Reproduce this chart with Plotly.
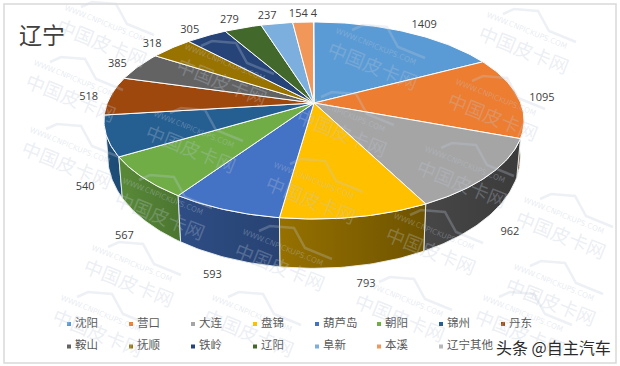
import math
import plotly.graph_objects as go

# ---- data ----
categories = ["沈阳", "营口", "大连", "盘锦", "葫芦岛", "朝阳", "锦州", "丹东",
              "鞍山", "抚顺", "铁岭", "辽阳", "阜新", "本溪", "辽宁其他"]
values = [1409, 1095, 962, 793, 593, 567, 540, 518, 385, 318, 305, 279, 237, 154, 4]
colors = ["#5B9BD5", "#ED7D31", "#A5A5A5", "#FFC000", "#4472C4", "#70AD47", "#255E91", "#9E480E",
          "#636363", "#997300", "#264478", "#43682B", "#7CAFDD", "#F1975A", "#B7B7B7"]
title_text = "辽宁"
credit_text = "头条 @自主汽车"

# ---- perspective model of the pie ----
CX, CY, K = 314, 103, 0.1776
A, B = 206.7, 95.4
Ab, Bb, CYb = 203, 108, 137
CJK = "Noto Sans CJK SC"
total = sum(values)


def rim(theta, a, b, cy):
    w = 1 + K * math.cos(theta)
    return CX + a * math.sin(theta) / w, cy - b * math.cos(theta) / w


def arc(t0, t1, a, b, cy):
    n = max(2, int(abs(t1 - t0) / math.radians(1)) + 1)
    pts = [rim(t0 + (t1 - t0) * i / n, a, b, cy) for i in range(n + 1)]
    return [p[0] for p in pts], [p[1] for p in pts]


def shade(deg):
    tbl = [(0, .35), (110, .36), (150, .42), (190, .60), (215, .68), (239, .80), (263, .85), (360, .85)]
    for (d0, f0), (d1, f1) in zip(tbl, tbl[1:]):
        if d0 <= deg <= d1:
            return f0 + (f1 - f0) * (deg - d0) / (d1 - d0)
    return .5


def dark(col, f):
    r, g, b = int(col[1:3], 16), int(col[3:5], 16), int(col[5:7], 16)
    return f"rgb({int(r*f)},{int(g*f)},{int(b*f)})"


bounds = [0.0]
for v in values:
    bounds.append(bounds[-1] + v / total * 2 * math.pi)

fig = go.Figure()
order = sorted(range(len(values)), key=lambda i: -math.cos((bounds[i] + bounds[i + 1]) / 2))

# sides, far to near
for i in order:
    t0, t1 = bounds[i], bounds[i + 1]
    if math.cos((t0 + t1) / 2) > 0.1:
        continue
    xt, yt = arc(t0, t1, A, B, CY)
    xb, yb = arc(t1, t0, Ab, Bb, CYb)
    fl = dark(colors[i], shade(math.degrees(t1)))
    fr = dark(colors[i], shade(math.degrees(t0)))
    fig.add_trace(go.Scatter(
        x=xt + xb + xt[:1], y=yt + yb + yt[:1], mode="lines", fill="toself",
        fillgradient=dict(type="horizontal", colorscale=[[0, fl], [1, fr]]),
        line=dict(color="rgba(235,240,235,0.9)", width=1), hoverinfo="skip", showlegend=False))

# top faces
for i in range(len(values)):
    xt, yt = arc(bounds[i], bounds[i + 1], A, B, CY)
    fig.add_trace(go.Scatter(
        x=[CX] + xt + [CX], y=[CY] + yt + [CY], mode="lines", fill="toself",
        fillcolor=colors[i], line=dict(color="white", width=1),
        name=categories[i], text=str(values[i]), hoverinfo="name+text", showlegend=False))

# value labels
lx, ly = [], []
for i in range(len(values)):
    m = (bounds[i] + bounds[i + 1]) / 2
    x, y = rim(m, A, B, CY)
    s, c = math.sin(m), math.cos(m)
    lx.append(x + 23 * math.copysign(abs(s) ** .5, s) + 1)
    ly.append(y + 2 - 10 * c + ((46 + 10 * abs(c) ** 3) if c < 0 else 0))
fig.add_trace(go.Scatter(
    x=lx, y=ly, mode="text", text=[str(v) for v in values], textposition="middle center",
    textfont=dict(family="Open Sans", size=11, color="#404040"), hoverinfo="skip", showlegend=False))

# legend
legx = [69 + 62 * (i % 8) for i in range(len(categories))]
legy = [324 + 22.5 * (i // 8) for i in range(len(categories))]
fig.add_trace(go.Scatter(
    x=legx, y=legy, mode="markers+text", text=[" " + c for c in categories], textposition="middle right",
    marker=dict(symbol="square", size=4, color=colors),
    textfont=dict(family=CJK, size=11.5, color="#595959"), hoverinfo="skip", showlegend=False))

# watermarks
WM_A, WM_B = (120, 51), (-31, 67)
ROOF = [(-21, -34), (-10, -39), (14, -37), (25, -17), (52, -6)]
anns = []
rx, ry = [], []
for p in range(-2, 7):
    for q in range(-3, 7):
        bx = 97 + p * WM_A[0] + q * WM_B[0]
        by = 20 + p * WM_A[1] + q * WM_B[1]
        if not (20 < bx < 605 and 5 < by < 360):
            continue
        # keep each mark inside the frame
        bx = min(max(bx, 62), 556)
        by = min(max(by, 32), 322)
        tx, ty = bx + 5, by + 9
        anns.append(dict(x=tx, y=ty, xref="x", yref="y", text="中国皮卡网", showarrow=False, textangle=22,
                         font=dict(family=CJK, size=19, color="rgba(190,200,215,0.30)")))
        anns.append(dict(x=bx + 8, y=by - 9, xref="x", yref="y", text="WWW.CNPICKUPS.COM", showarrow=False,
                         textangle=22, font=dict(family="DejaVu Sans", size=7.5, color="rgba(190,200,215,0.35)")))
        for dx, dy in ROOF:
            rx.append(tx + dx)
            ry.append(ty + dy)
        rx.append(None)
        ry.append(None)
fig.add_trace(go.Scatter(x=rx, y=ry, mode="lines", line=dict(color="rgba(190,200,215,0.28)", width=2.5),
                         hoverinfo="skip", showlegend=False))

# title and credit
anns.append(dict(x=42, y=34, xref="x", yref="y", text=title_text, showarrow=False,
                 font=dict(family=CJK, size=23, color="#404040")))
anns.append(dict(x=553, y=347, xref="x", yref="y", text=credit_text, showarrow=False,
                 font=dict(family=CJK, size=16, color="#2a2a2a", shadow="0 0 2px white")))

fig.update_layout(
    width=620, height=366, margin=dict(l=0, r=0, t=0, b=0),
    paper_bgcolor="white", plot_bgcolor="white",
    xaxis=dict(range=[0, 620], visible=False, fixedrange=True),
    yaxis=dict(range=[366, 0], visible=False, fixedrange=True),
    annotations=anns,
    shapes=[dict(type="rect", x0=4, y0=4, x1=616, y1=363, xref="x", yref="y",
                 line=dict(color="#d9d9d9", width=1.5), layer="above")],
)
fig.write_html("out.html", config={"displayModeBar": False},
               post_script="document.body.style.margin='0';document.body.style.overflow='hidden';")
